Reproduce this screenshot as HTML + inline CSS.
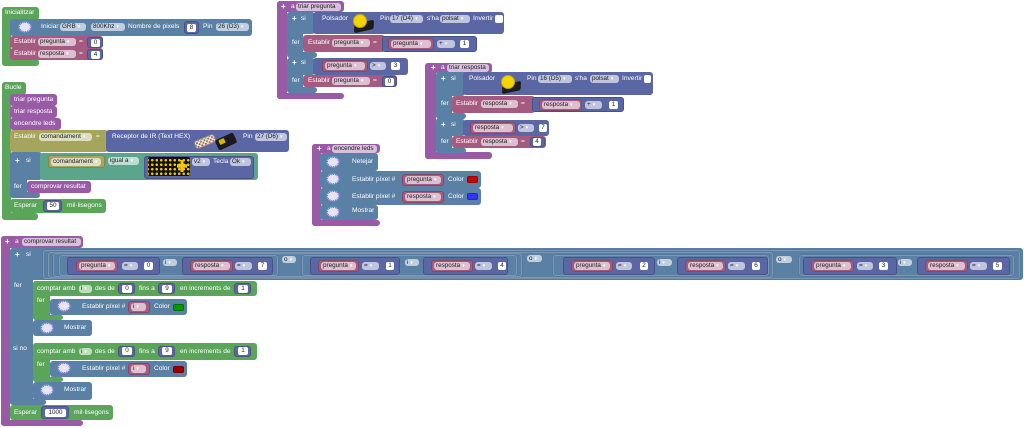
<!DOCTYPE html>
<html><head><meta charset="utf-8">
<style>
body{margin:0;width:1024px;height:428px;background:#fff;position:relative;overflow:hidden;font-family:"Liberation Sans",sans-serif}
div,span,i{position:absolute;box-sizing:border-box;display:block}
.b{border-radius:3px}
.g{background:#5ba55b}
.bl{background:#5b80a5}
.p{background:#995ba5}
.v{background:#a55b80}
.m{background:#5b67a5}
.ol{background:#a5a55b}
.te{background:#5ba58c}
.vb{border:1px solid rgba(0,0,0,.2)}
.lg{background:#5b80a5;border:1px solid rgba(255,255,255,.2);border-radius:3px;box-shadow:0 0 0 .5px rgba(0,0,0,.12)}
.t{color:#fff;font-size:6.6px;line-height:8px;height:8px;white-space:nowrap}
.pl{font-weight:bold;font-size:8px}
.d{height:8px;line-height:8px;font-size:6.3px;color:#222;background:rgba(255,255,255,.62);border-radius:3px;padding-left:2px;white-space:nowrap;overflow:hidden}
.d em{font-style:normal;color:#fff;font-size:5px;margin-left:2px}
.n{height:8px;line-height:8px;font-size:6.3px;color:#222;background:#fff;border-radius:2px;text-align:center}
.np{width:12px;height:10px;border-radius:50%;background:#e4e6f2;border:1.5px dotted #c23bd0;box-shadow:0 0 0 .6px #5ad}
.sw{width:11px;height:7px;border-radius:2px;border:1px solid rgba(0,0,0,.25)}
.cb{width:8px;height:8px;background:#fff;border-radius:2px}
</style></head><body>

<!-- ========== Inicialitzar ========== -->
<div class="b g" style="left:2px;top:7px;width:37px;height:13px"></div>
<div class="b g" style="left:2px;top:7px;width:9px;height:59px"></div>
<div class="b g" style="left:2px;top:59px;width:37px;height:7px"></div>
<span class="t" style="left:5px;top:9px">Inicialitzar</span>
<div class="b bl" style="left:10px;top:19px;width:242px;height:17px"></div>
<i class="np" style="left:19px;top:22px"></i>
<span class="t" style="left:41px;top:23px">Iniciar</span>
<span class="d" style="left:60px;top:23px;width:26px">GRB<em>▾</em></span>
<span class="d" style="left:91px;top:23px;width:34px">800Khz<em>▾</em></span>
<span class="t" style="left:128px;top:23px">Nombre de pixels</span>
<div class="b m vb" style="left:184px;top:21px;width:15px;height:13px"></div>
<span class="n" style="left:187px;top:23.5px;width:9px">8</span>
<span class="t" style="left:203px;top:23px">Pin</span>
<span class="d" style="left:216px;top:23px;width:33px">26 (D3)<em>▾</em></span>

<div class="b v" style="left:10px;top:36px;width:93px;height:12px"></div>
<span class="t" style="left:14px;top:38px">Establir</span>
<span class="d" style="left:38px;top:38px;width:38px">pregunta<em>▾</em></span>
<span class="t" style="left:79px;top:38px">=</span>
<div class="b m vb" style="left:87px;top:37px;width:16px;height:11px"></div>
<span class="n" style="left:91px;top:38.5px;width:9px">0</span>

<div class="b v" style="left:10px;top:48px;width:93px;height:12px"></div>
<span class="t" style="left:14px;top:50px">Establir</span>
<span class="d" style="left:38px;top:50px;width:38px">resposta<em>▾</em></span>
<span class="t" style="left:79px;top:50px">=</span>
<div class="b m vb" style="left:87px;top:49px;width:16px;height:11px"></div>
<span class="n" style="left:91px;top:50.5px;width:9px">4</span>

<!-- ========== Bucle ========== -->
<div class="b g" style="left:2px;top:82px;width:24px;height:13px"></div>
<div class="b g" style="left:2px;top:82px;width:9px;height:138px"></div>
<div class="b g" style="left:2px;top:213px;width:36px;height:7px"></div>
<span class="t" style="left:5px;top:84px">Bucle</span>

<div class="b p" style="left:10px;top:94px;width:47px;height:12px"></div>
<span class="t" style="left:14px;top:96px">triar pregunta</span>
<div class="b p" style="left:10px;top:106px;width:47px;height:12px"></div>
<span class="t" style="left:14px;top:108px">triar resposta</span>
<div class="b p" style="left:10px;top:118px;width:51px;height:12px"></div>
<span class="t" style="left:14px;top:120px">encendre leds</span>

<div class="b ol" style="left:10px;top:130px;width:98px;height:22px"></div>
<span class="t" style="left:14px;top:133px">Establir</span>
<span class="d" style="left:39px;top:133px;width:53px">comandament<em>▾</em></span>
<span class="t" style="left:96px;top:133px">=</span>
<div class="b m" style="left:106px;top:130px;width:183px;height:22px"></div>
<span class="t" style="left:112px;top:133px">Receptor de IR (Text HEX)</span>
<div style="left:194px;top:137px;width:22px;height:9px;background:#eee;border:1px solid #888;border-radius:3px;transform:rotate(-22deg);background-image:radial-gradient(circle,#e44 .8px,transparent 1.2px),radial-gradient(circle,#4a4 .8px,transparent 1.2px);background-size:4px 4px,4px 4px;background-position:0 0,2px 2px"></div>
<div style="left:216px;top:136px;width:20px;height:11px;background:#1a1a1a;border-radius:2px;transform:rotate(-25deg)"></div>
<div style="left:219px;top:139px;width:6px;height:5px;background:#d9b400;border-radius:1px;transform:rotate(-25deg)"></div>
<span class="t" style="left:243px;top:133px">Pin</span>
<span class="d" style="left:255px;top:133px;width:32px">27 (D6)<em>▾</em></span>

<div class="b bl" style="left:10px;top:152px;width:32px;height:28px"></div>
<div class="b bl" style="left:10px;top:152px;width:17px;height:46px"></div>
<div class="b bl" style="left:10px;top:192px;width:30px;height:6px"></div>
<span class="t pl" style="left:15px;top:157px">+</span>
<span class="t" style="left:26px;top:157px">si</span>
<div class="b te" style="left:40px;top:153px;width:218px;height:27px"></div>
<div class="b ol vb" style="left:48px;top:155px;width:57px;height:13px"></div>
<span class="d" style="left:51px;top:157.5px;width:50px">comandament<em>▾</em></span>
<span class="d" style="left:108px;top:157px;width:31px">igual a<em>▾</em></span>
<div class="b m vb" style="left:144px;top:156px;width:110px;height:23px"></div>
<div style="left:148px;top:157px;width:42px;height:19px;background:#111;border-radius:2px;background-image:radial-gradient(circle,#f0c800 1.1px,transparent 1.5px);background-size:4.5px 4.5px;background-position:2px 1px"></div>
<div style="left:177px;top:160px;width:10px;height:12px;background:#f0c800;clip-path:polygon(35% 0,65% 0,65% 35%,100% 35%,100% 65%,65% 65%,65% 100%,35% 100%,35% 65%,0 65%,0 35%,35% 35%)"></div>
<span class="d" style="left:192px;top:158px;width:18px">v2<em>▾</em></span>
<span class="t" style="left:213px;top:158px">Tecla</span>
<span class="d" style="left:230px;top:158px;width:21px">Ok<em>▾</em></span>

<span class="t" style="left:14px;top:183px">fer</span>
<div class="b p" style="left:27px;top:181px;width:64px;height:12px"></div>
<span class="t" style="left:31px;top:183px">comprovar resultat</span>

<div class="b g" style="left:10px;top:199px;width:96px;height:14px"></div>
<span class="t" style="left:14px;top:202px">Esperar</span>
<div class="b m vb" style="left:43px;top:200px;width:19px;height:12px"></div>
<span class="n" style="left:47px;top:202px;width:12px">50</span>
<span class="t" style="left:67px;top:202px">mil·lisegons</span>

<!-- ========== triar pregunta ========== -->
<div class="b p" style="left:277px;top:1px;width:67px;height:11px"></div>
<div class="b p" style="left:277px;top:1px;width:10px;height:98px"></div>
<div class="b p" style="left:277px;top:93px;width:67px;height:6px"></div>
<span class="t pl" style="left:281px;top:2.5px">+</span>
<span class="t" style="left:291px;top:2.5px">a</span>
<span class="d" style="left:296px;top:2.5px;width:45px">triar pregunta</span>

<div class="b bl" style="left:287px;top:12px;width:28px;height:22px"></div>
<div class="b bl" style="left:287px;top:12px;width:16px;height:45px"></div>
<div class="b bl" style="left:287px;top:52px;width:30px;height:6px"></div>
<span class="t pl" style="left:292px;top:15px">+</span>
<span class="t" style="left:301px;top:15px">si</span>
<div class="b m" style="left:313px;top:12px;width:191px;height:22px"></div>
<span class="t" style="left:322px;top:15px">Polsador</span>
<div style="left:354px;top:22px;width:20px;height:9px;background:#1c1c1c;border-radius:2px;transform:rotate(-12deg) skewX(-15deg)"></div>
<div style="left:354px;top:15px;width:12px;height:12px;background:#f2d500;border-radius:50%;box-shadow:0 0 0 1px #c9a800"></div>
<span class="t" style="left:380px;top:15px">Pin</span>
<span class="d" style="left:390px;top:15px;width:33px">17 (D4)<em>▾</em></span>
<span class="t" style="left:427px;top:15px">s'ha</span>
<span class="d" style="left:440px;top:15px;width:30px">polsat<em>▾</em></span>
<span class="t" style="left:473px;top:15px">Invertir</span>
<i class="cb" style="left:495px;top:15px"></i>
<span class="t" style="left:292px;top:39px">fer</span>
<div class="b v" style="left:303px;top:35px;width:82px;height:17px"></div>
<span class="t" style="left:308px;top:39px">Establir</span>
<span class="d" style="left:332px;top:39px;width:38px">pregunta<em>▾</em></span>
<span class="t" style="left:373px;top:39px">=</span>
<div class="b m vb" style="left:382px;top:36px;width:95px;height:16px"></div>
<div class="b v vb" style="left:388px;top:38px;width:46px;height:12px"></div>
<span class="d" style="left:391px;top:40px;width:40px">pregunta<em>▾</em></span>
<span class="d" style="left:437px;top:40px;width:18px">+<em>▾</em></span>
<span class="n" style="left:460px;top:40px;width:9px">1</span>

<div class="b bl" style="left:287px;top:58px;width:28px;height:17px"></div>
<div class="b bl" style="left:287px;top:58px;width:16px;height:35px"></div>
<div class="b bl" style="left:287px;top:87px;width:30px;height:6px"></div>
<span class="t pl" style="left:292px;top:59px">+</span>
<span class="t" style="left:301px;top:59px">si</span>
<div class="b m" style="left:313px;top:58px;width:95px;height:17px"></div>
<div class="b v vb" style="left:322px;top:60px;width:46px;height:12px"></div>
<span class="d" style="left:325px;top:62px;width:40px">pregunta<em>▾</em></span>
<span class="d" style="left:370px;top:62px;width:16px">&gt;<em>▾</em></span>
<span class="n" style="left:391px;top:62px;width:9px">3</span>
<span class="t" style="left:292px;top:77px">fer</span>
<div class="b v" style="left:303px;top:75px;width:94px;height:12px"></div>
<span class="t" style="left:308px;top:77px">Establir</span>
<span class="d" style="left:332px;top:77px;width:38px">pregunta<em>▾</em></span>
<span class="t" style="left:373px;top:77px">=</span>
<div class="b m vb" style="left:382px;top:76px;width:15px;height:11px"></div>
<span class="n" style="left:385px;top:77.5px;width:9px">0</span>

<!-- ========== triar resposta ========== -->
<div class="b p" style="left:425px;top:63px;width:67px;height:10px"></div>
<div class="b p" style="left:425px;top:63px;width:11px;height:96px"></div>
<div class="b p" style="left:425px;top:152px;width:67px;height:7px"></div>
<span class="t pl" style="left:431px;top:63.5px">+</span>
<span class="t" style="left:441px;top:63.5px">a</span>
<span class="d" style="left:447px;top:64px;width:42px">triar resposta</span>

<div class="b bl" style="left:436px;top:72px;width:29px;height:24px"></div>
<div class="b bl" style="left:436px;top:72px;width:16px;height:46px"></div>
<div class="b bl" style="left:436px;top:113px;width:30px;height:6px"></div>
<span class="t pl" style="left:441px;top:75px">+</span>
<span class="t" style="left:451px;top:75px">si</span>
<div class="b m" style="left:463px;top:72px;width:190px;height:23px"></div>
<span class="t" style="left:469px;top:75px">Polsador</span>
<div style="left:502px;top:83px;width:19px;height:9px;background:#1c1c1c;border-radius:2px;transform:rotate(-12deg) skewX(-15deg)"></div>
<div style="left:502px;top:76px;width:12px;height:12px;background:#f2d500;border-radius:50%;box-shadow:0 0 0 1px #c9a800"></div>
<span class="t" style="left:527px;top:75px">Pin</span>
<span class="d" style="left:538px;top:75px;width:34px">16 (D5)<em>▾</em></span>
<span class="t" style="left:575px;top:75px">s'ha</span>
<span class="d" style="left:590px;top:75px;width:29px">polsat<em>▾</em></span>
<span class="t" style="left:622px;top:75px">Invertir</span>
<i class="cb" style="left:644px;top:75px;width:7px"></i>
<span class="t" style="left:441px;top:100px">fer</span>
<div class="b v" style="left:452px;top:96px;width:83px;height:17px"></div>
<span class="t" style="left:456px;top:100px">Establir</span>
<span class="d" style="left:481px;top:100px;width:37px">resposta<em>▾</em></span>
<span class="t" style="left:521px;top:100px">=</span>
<div class="b m vb" style="left:532px;top:97px;width:92px;height:15px"></div>
<div class="b v vb" style="left:539px;top:98.5px;width:43px;height:12px"></div>
<span class="d" style="left:542px;top:100.5px;width:38px">resposta<em>▾</em></span>
<span class="d" style="left:585px;top:100.5px;width:17px">+<em>▾</em></span>
<span class="n" style="left:609px;top:100.5px;width:9px">1</span>

<div class="b bl" style="left:436px;top:119px;width:29px;height:17px"></div>
<div class="b bl" style="left:436px;top:118px;width:16px;height:35px"></div>
<div class="b bl" style="left:436px;top:148px;width:30px;height:5px"></div>
<span class="t pl" style="left:441px;top:121px">+</span>
<span class="t" style="left:451px;top:121px">si</span>
<div class="b m" style="left:463px;top:120px;width:86px;height:16px"></div>
<div class="b v vb" style="left:470px;top:121.5px;width:46px;height:12px"></div>
<span class="d" style="left:473px;top:123.5px;width:40px">resposta<em>▾</em></span>
<span class="d" style="left:518px;top:123.5px;width:16px">&gt;<em>▾</em></span>
<span class="n" style="left:539px;top:123.5px;width:8px">7</span>
<span class="t" style="left:441px;top:138px">fer</span>
<div class="b v" style="left:452px;top:136px;width:94px;height:12px"></div>
<span class="t" style="left:456px;top:138px">Establir</span>
<span class="d" style="left:481px;top:138px;width:37px">resposta<em>▾</em></span>
<span class="t" style="left:521px;top:138px">=</span>
<div class="b m vb" style="left:530px;top:137px;width:15px;height:10px"></div>
<span class="n" style="left:533px;top:138px;width:8px">4</span>

<!-- ========== encendre leds ========== -->
<div class="b p" style="left:312px;top:144px;width:68px;height:9px"></div>
<div class="b p" style="left:312px;top:144px;width:9px;height:82px"></div>
<div class="b p" style="left:312px;top:220px;width:68px;height:6px"></div>
<span class="t pl" style="left:317px;top:144.5px">+</span>
<span class="t" style="left:327px;top:144.5px">a</span>
<span class="d" style="left:332px;top:145px;width:45px;height:7.5px;line-height:7.5px">encendre leds</span>

<div class="b bl" style="left:320px;top:153px;width:58px;height:18px"></div>
<i class="np" style="left:327px;top:157px"></i>
<span class="t" style="left:352px;top:158px">Netejar</span>
<div class="b bl" style="left:320px;top:171px;width:161px;height:17px"></div>
<i class="np" style="left:327px;top:174px"></i>
<span class="t" style="left:352px;top:175.5px">Establir píxel #</span>
<div class="b v vb" style="left:402px;top:174px;width:42px;height:12px"></div>
<span class="d" style="left:405px;top:176px;width:36px">pregunta<em>▾</em></span>
<span class="t" style="left:448px;top:175.5px">Color</span>
<i class="sw" style="left:467px;top:176px;background:#cc0000"></i>
<div class="b bl" style="left:320px;top:188px;width:161px;height:17px"></div>
<i class="np" style="left:327px;top:191px"></i>
<span class="t" style="left:352px;top:192.5px">Establir píxel #</span>
<div class="b v vb" style="left:402px;top:191px;width:42px;height:12px"></div>
<span class="d" style="left:405px;top:193px;width:36px">resposta<em>▾</em></span>
<span class="t" style="left:448px;top:192.5px">Color</span>
<i class="sw" style="left:467px;top:193px;background:#3333ff"></i>
<div class="b bl" style="left:320px;top:205px;width:58px;height:15px"></div>
<i class="np" style="left:327px;top:207px"></i>
<span class="t" style="left:352px;top:207px">Mostrar</span>

<!-- ========== comprovar resultat ========== -->
<div class="b p" style="left:1px;top:236px;width:82px;height:12px"></div>
<div class="b p" style="left:1px;top:236px;width:9px;height:190px"></div>
<div class="b p" style="left:1px;top:420px;width:82px;height:6px"></div>
<span class="t pl" style="left:5px;top:237.5px">+</span>
<span class="t" style="left:15px;top:237.5px">a</span>
<span class="d" style="left:22px;top:238px;width:59px;height:7.5px;line-height:7.5px">comprovar resultat</span>

<div class="b bl" style="left:10px;top:248px;width:1013px;height:32px"></div>
<div class="b bl" style="left:10px;top:248px;width:23px;height:157px"></div>
<div class="b bl" style="left:10px;top:399px;width:36px;height:6px"></div>
<span class="t pl" style="left:15px;top:251px">+</span>
<span class="t" style="left:26px;top:251px">si</span>

<div class="lg" style="left:43px;top:250px;width:977px;height:29px"></div>
<div class="lg" style="left:48px;top:252px;width:725px;height:26px"></div>
<div class="lg" style="left:53px;top:253px;width:469px;height:24px"></div>
<div class="lg" style="left:59px;top:255px;width:219px;height:21px"></div>
<div class="lg" style="left:302px;top:255px;width:215px;height:21px"></div>
<div class="lg" style="left:553px;top:255px;width:216px;height:21px"></div>
<div class="lg" style="left:799px;top:255px;width:215px;height:21px"></div>

<div class="b m vb" style="left:67px;top:257px;width:93px;height:18px"></div>
<div class="b v vb" style="left:76px;top:260px;width:42px;height:12px"></div>
<span class="d" style="left:79px;top:262px;width:36px">pregunta<em>▾</em></span>
<span class="d" style="left:122px;top:262px;width:16px">=<em>▾</em></span>
<span class="n" style="left:144px;top:262px;width:9px">0</span>
<span class="d" style="left:163px;top:259px;width:14px;height:7px;line-height:7px">i<em>▾</em></span>
<div class="b m vb" style="left:182px;top:257px;width:91px;height:18px"></div>
<div class="b v vb" style="left:190px;top:260px;width:43px;height:12px"></div>
<span class="d" style="left:193px;top:262px;width:37px">resposta<em>▾</em></span>
<span class="d" style="left:235px;top:262px;width:17px">=<em>▾</em></span>
<span class="n" style="left:258px;top:262px;width:9px">7</span>
<span class="d" style="left:282px;top:256px;width:14px;height:7px;line-height:7px">o<em>▾</em></span>

<div class="b m vb" style="left:310px;top:257px;width:90px;height:18px"></div>
<div class="b v vb" style="left:318px;top:260px;width:41px;height:12px"></div>
<span class="d" style="left:321px;top:262px;width:35px">pregunta<em>▾</em></span>
<span class="d" style="left:362px;top:262px;width:17px">=<em>▾</em></span>
<span class="n" style="left:386px;top:262px;width:8px">1</span>
<span class="d" style="left:405px;top:259px;width:14px;height:7px;line-height:7px">i<em>▾</em></span>
<div class="b m vb" style="left:423px;top:257px;width:85px;height:18px"></div>
<div class="b v vb" style="left:431px;top:260px;width:42px;height:12px"></div>
<span class="d" style="left:434px;top:262px;width:36px">resposta<em>▾</em></span>
<span class="d" style="left:475px;top:262px;width:17px">=<em>▾</em></span>
<span class="n" style="left:498px;top:262px;width:8px">4</span>
<span class="d" style="left:527px;top:255px;width:15px;height:7px;line-height:7px">o<em>▾</em></span>

<div class="b m vb" style="left:563px;top:257px;width:92px;height:18px"></div>
<div class="b v vb" style="left:571px;top:260px;width:42px;height:12px"></div>
<span class="d" style="left:574px;top:262px;width:36px">pregunta<em>▾</em></span>
<span class="d" style="left:616px;top:262px;width:16px">=<em>▾</em></span>
<span class="n" style="left:640px;top:262px;width:8px">2</span>
<span class="d" style="left:657px;top:259px;width:15px;height:7px;line-height:7px">i<em>▾</em></span>
<div class="b m vb" style="left:677px;top:257px;width:91px;height:18px"></div>
<div class="b v vb" style="left:685px;top:260px;width:41px;height:12px"></div>
<span class="d" style="left:688px;top:262px;width:35px">resposta<em>▾</em></span>
<span class="d" style="left:728px;top:262px;width:17px">=<em>▾</em></span>
<span class="n" style="left:752px;top:262px;width:8px">6</span>
<span class="d" style="left:776px;top:256px;width:16px;height:7px;line-height:7px">o<em>▾</em></span>

<div class="b m vb" style="left:803px;top:257px;width:94px;height:18px"></div>
<div class="b v vb" style="left:811px;top:260px;width:43px;height:12px"></div>
<span class="d" style="left:814px;top:262px;width:37px">pregunta<em>▾</em></span>
<span class="d" style="left:857px;top:262px;width:16px">=<em>▾</em></span>
<span class="n" style="left:879px;top:262px;width:9px">3</span>
<span class="d" style="left:898px;top:259px;width:14px;height:7px;line-height:7px">i<em>▾</em></span>
<div class="b m vb" style="left:917px;top:257px;width:93px;height:18px"></div>
<div class="b v vb" style="left:925px;top:260px;width:43px;height:12px"></div>
<span class="d" style="left:928px;top:262px;width:37px">resposta<em>▾</em></span>
<span class="d" style="left:970px;top:262px;width:17px">=<em>▾</em></span>
<span class="n" style="left:993px;top:262px;width:9px">5</span>

<!-- fer: comptar 1 -->
<span class="t" style="left:14px;top:282px">fer</span>
<div class="b g" style="left:33px;top:281px;width:224px;height:15px"></div>
<div class="b g" style="left:33px;top:281px;width:17px;height:39px"></div>
<div class="b g" style="left:33px;top:314.5px;width:30px;height:5.5px"></div>
<span class="t" style="left:37px;top:285px">comptar amb</span>
<span class="d" style="left:79px;top:285px;width:13px;height:7.5px;line-height:7.5px">i<em>▾</em></span>
<span class="t" style="left:95px;top:285px">des de</span>
<div class="b m vb" style="left:118px;top:283px;width:17px;height:11px"></div>
<span class="n" style="left:122px;top:284.5px;width:10px">0</span>
<span class="t" style="left:139px;top:285px">fins a</span>
<div class="b m vb" style="left:158px;top:283px;width:17px;height:11px"></div>
<span class="n" style="left:162px;top:284.5px;width:10px">9</span>
<span class="t" style="left:180px;top:285px">en increments de</span>
<div class="b m vb" style="left:234px;top:283px;width:17px;height:11px"></div>
<span class="n" style="left:238px;top:284.5px;width:10px">1</span>
<span class="t" style="left:37px;top:297px">fer</span>
<div class="b bl" style="left:50px;top:298.5px;width:137px;height:16.5px"></div>
<i class="np" style="left:58px;top:301px"></i>
<span class="t" style="left:82px;top:302.5px">Establir píxel #</span>
<div class="b v vb" style="left:128px;top:300.5px;width:22px;height:12px"></div>
<span class="d" style="left:131px;top:302.5px;width:15px">i<em>▾</em></span>
<span class="t" style="left:154px;top:302.5px">Color</span>
<i class="sw" style="left:173px;top:303.5px;background:#009900"></i>
<div class="b bl" style="left:33px;top:320px;width:59px;height:16px"></div>
<i class="np" style="left:41px;top:322.5px"></i>
<span class="t" style="left:64px;top:324px">Mostrar</span>

<!-- si no: comptar 2 -->
<span class="t" style="left:13px;top:345px">si no</span>
<div class="b g" style="left:33px;top:343px;width:224px;height:17px"></div>
<div class="b g" style="left:33px;top:343px;width:17px;height:39px"></div>
<div class="b g" style="left:33px;top:377px;width:30px;height:5px"></div>
<span class="t" style="left:37px;top:347.5px">comptar amb</span>
<span class="d" style="left:79px;top:347.5px;width:13px;height:7.5px;line-height:7.5px">i<em>▾</em></span>
<span class="t" style="left:95px;top:347.5px">des de</span>
<div class="b m vb" style="left:118px;top:345.5px;width:17px;height:11px"></div>
<span class="n" style="left:122px;top:347px;width:10px">0</span>
<span class="t" style="left:139px;top:347.5px">fins a</span>
<div class="b m vb" style="left:158px;top:345.5px;width:17px;height:11px"></div>
<span class="n" style="left:162px;top:347px;width:10px">9</span>
<span class="t" style="left:180px;top:347.5px">en increments de</span>
<div class="b m vb" style="left:234px;top:345.5px;width:17px;height:11px"></div>
<span class="n" style="left:238px;top:347px;width:10px">1</span>
<span class="t" style="left:37px;top:361px">fer</span>
<div class="b bl" style="left:50px;top:360.5px;width:137px;height:16.5px"></div>
<i class="np" style="left:58px;top:363px"></i>
<span class="t" style="left:82px;top:364.5px">Establir píxel #</span>
<div class="b v vb" style="left:128px;top:362.5px;width:22px;height:12px"></div>
<span class="d" style="left:131px;top:364.5px;width:15px">i<em>▾</em></span>
<span class="t" style="left:154px;top:364.5px">Color</span>
<i class="sw" style="left:173px;top:365.5px;background:#990000"></i>
<div class="b bl" style="left:33px;top:382px;width:59px;height:17.5px"></div>
<i class="np" style="left:41px;top:385px"></i>
<span class="t" style="left:64px;top:386px">Mostrar</span>

<div class="b g" style="left:10px;top:405px;width:103px;height:15px"></div>
<span class="t" style="left:14px;top:408.5px">Esperar</span>
<div class="b m vb" style="left:41px;top:406px;width:28px;height:13px"></div>
<span class="n" style="left:45px;top:408.5px;width:21px">1000</span>
<span class="t" style="left:74px;top:408.5px">mil·lisegons</span>

</body></html>
